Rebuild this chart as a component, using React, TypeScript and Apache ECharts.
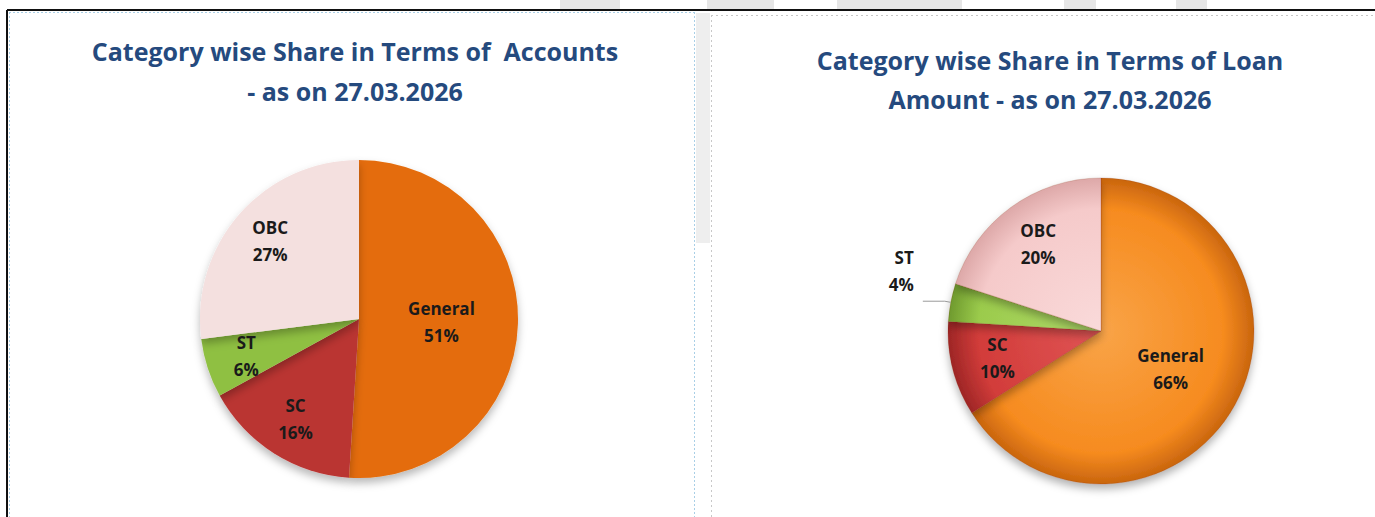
import React, { useEffect, useRef } from "react";
import * as echarts from "echarts";

const categories = ["General", "SC", "ST", "OBC"];
const accountShare = [51, 16, 6, 27];
const loanShare = [66, 10, 4, 20];
const accountTitle = "Category wise Share in Terms of  Accounts\n- as on 27.03.2026";
const loanTitle = "Category wise Share in Terms of Loan\nAmount - as on 27.03.2026";

const leftColors = ["#E46C0A", "#BA3533", "#8FC043", "#F4E0DF"];
const rightColors = ["#F68B1F", "#D23C3A", "#9BCB4C", "#F5CACA"];
const rightEdge = ["#C9650E", "#9E2626", "#6F9A2E", "#DDA8A8"];
const rightLight = ["#F9A448", "#E05555", "#B0DA6A", "#FADADA"];

const FONT = "'Open Sans', 'DejaVu Sans', sans-serif";

export default function App() {
  const ref = useRef<HTMLDivElement>(null);
  useEffect(() => {
    document.body.style.margin = "0";
    if (!ref.current) return;
    const chart = echarts.init(ref.current, undefined, { renderer: "svg" });

    const LC = [359, 319];
    const LR = 159;
    const RC = [1101, 331];
    const RR = 153;
    const stIndex = categories.indexOf("ST");

    const labelStyle = {
      formatter: "{b}\n{c}%",
      fontFamily: FONT,
      fontWeight: "bold" as const,
      fontSize: 17,
      lineHeight: 27,
      color: "#1a1a1a",
    };

    const leftMain = categories.map((name, i) => ({
      name,
      value: accountShare[i],
      itemStyle: { color: leftColors[i] },
      label: { show: i === 0 },
    }));
    const leftLabels = categories.map((name, i) => ({
      name,
      value: accountShare[i],
      label: { show: i !== 0 },
    }));
    const rightMain = categories.map((name, i) => ({
      name,
      value: loanShare[i],
      itemStyle: {
        color: {
          type: "radial",
          x: RC[0],
          y: RC[1],
          r: RR,
          global: true,
          colorStops: [
            { offset: 0, color: rightLight[i] },
            { offset: 0.8, color: rightColors[i] },
            { offset: 1, color: rightEdge[i] },
          ],
        },
      },
      label: { show: i === 0 },
    }));
    const rightLabels = categories.map((name, i) => ({
      name,
      value: loanShare[i],
      label: i === stIndex ? { show: true, position: "outside" } : { show: i !== 0 },
      labelLine:
        i === stIndex
          ? { show: true, length: 6, length2: 22, lineStyle: { color: "#9a9a9a", width: 1 } }
          : { show: false },
    }));

    chart.setOption({
      animation: false,
      backgroundColor: "#ffffff",
      title: [
        {
          text: accountTitle,
          left: 350,
          top: 26,
          textAlign: "center",
          textStyle: {
            fontFamily: FONT,
            fontWeight: "bold",
            fontSize: 25,
            lineHeight: 40,
            color: "#254A7E",
          },
        },
        {
          text: loanTitle,
          left: 1045,
          top: 35,
          textAlign: "center",
          textStyle: {
            fontFamily: FONT,
            fontWeight: "bold",
            fontSize: 25,
            lineHeight: 39,
            color: "#254A7E",
          },
        },
      ],
      graphic: [
        // faint watermark pieces
        { type: "rect", shape: { x: 560, y: 0, width: 60, height: 9 }, style: { fill: "#E6E6E6" }, z: -10 },
        { type: "rect", shape: { x: 707, y: 0, width: 67, height: 9 }, style: { fill: "#E6E6E6" }, z: -10 },
        { type: "rect", shape: { x: 837, y: 0, width: 125, height: 9 }, style: { fill: "#E6E6E6" }, z: -10 },
        { type: "rect", shape: { x: 1064, y: 0, width: 32, height: 9 }, style: { fill: "#E6E6E6" }, z: -10 },
        { type: "rect", shape: { x: 1176, y: 0, width: 31, height: 9 }, style: { fill: "#E6E6E6" }, z: -10 },
        { type: "rect", shape: { x: 696, y: 13, width: 14, height: 230 }, style: { fill: "#EEEEEE" }, z: -10 },
        // borders
        { type: "line", shape: { x1: 7, y1: 10, x2: 1375, y2: 10 }, style: { stroke: "#111", lineWidth: 2 } },
        { type: "line", shape: { x1: 7, y1: 10, x2: 7, y2: 517 }, style: { stroke: "#111", lineWidth: 2 } },
        { type: "line", shape: { x1: 9, y1: 12.5, x2: 694, y2: 12.5 }, style: { stroke: "#A9CFE6", lineWidth: 1, lineDash: [2, 2] } },
        { type: "line", shape: { x1: 9.5, y1: 12, x2: 9.5, y2: 517 }, style: { stroke: "#A9CFE6", lineWidth: 1, lineDash: [2, 2] } },
        { type: "line", shape: { x1: 694.5, y1: 12, x2: 694.5, y2: 517 }, style: { stroke: "#A9CFE6", lineWidth: 1, lineDash: [2, 2] } },
        { type: "line", shape: { x1: 711, y1: 15.5, x2: 1375, y2: 15.5 }, style: { stroke: "#C8C8C8", lineWidth: 1, lineDash: [2, 3] } },
        { type: "line", shape: { x1: 711.5, y1: 15, x2: 711.5, y2: 517 }, style: { stroke: "#C8C8C8", lineWidth: 1, lineDash: [2, 3] } },
      ],
      series: [
        {
          type: "pie",
          center: LC,
          radius: [0, LR],
          silent: true,
          avoidLabelOverlap: false,
          label: { ...labelStyle, position: "inside" },
          labelLine: { show: false },
          itemStyle: {
            borderWidth: 0,
            shadowBlur: 8,
            shadowOffsetY: 5,
            shadowColor: "rgba(0,0,0,0.28)",
          },
          emphasis: { disabled: true },
          data: leftMain,
        },
        {
          type: "pie",
          center: LC,
          radius: [72, LR],
          silent: true,
          avoidLabelOverlap: false,
          label: { ...labelStyle, position: "inside" },
          labelLine: { show: false },
          itemStyle: { color: "rgba(0,0,0,0)", borderWidth: 0 },
          emphasis: { disabled: true },
          data: leftLabels,
          z: 5,
        },
        {
          type: "pie",
          center: RC,
          radius: [0, RR],
          silent: true,
          avoidLabelOverlap: false,
          label: { ...labelStyle, position: "inside" },
          labelLine: { show: false },
          itemStyle: {
            borderWidth: 0.5,
            borderColor: "rgba(120,40,0,0.35)",
            shadowBlur: 8,
            shadowOffsetY: 5,
            shadowColor: "rgba(0,0,0,0.3)",
          },
          emphasis: { disabled: true },
          data: rightMain,
        },
        {
          type: "pie",
          center: RC,
          radius: [55, RR],
          silent: true,
          avoidLabelOverlap: false,
          label: { ...labelStyle, position: "inside" },
          labelLine: { show: false },
          labelLayout: (params: any) =>
            params.dataIndex === stIndex ? { dx: -4, dy: -30 } : {},
          itemStyle: { color: "rgba(0,0,0,0)", borderWidth: 0 },
          emphasis: { disabled: true },
          data: rightLabels,
          z: 5,
        },
      ],
    });

    return () => chart.dispose();
  }, []);

  return <div ref={ref} style={{ width: 1375, height: 517 }} />;
}
